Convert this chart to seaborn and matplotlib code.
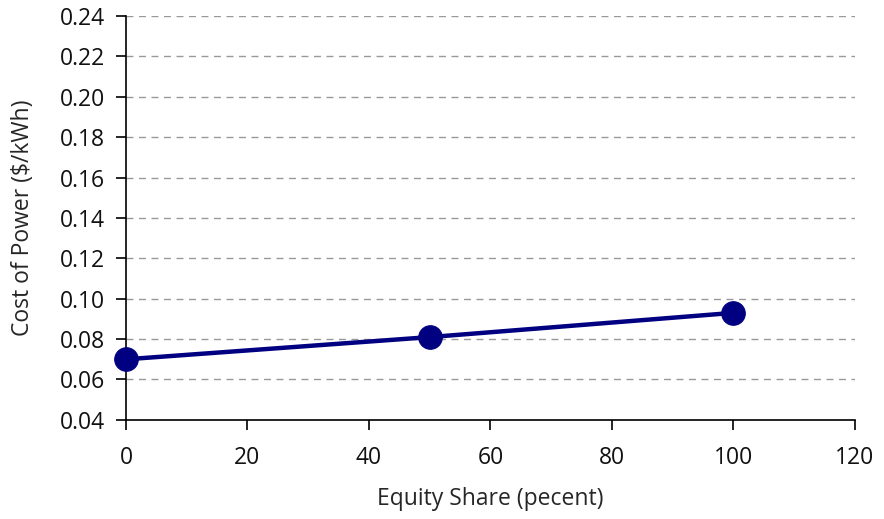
import matplotlib
matplotlib.use("Agg")
import matplotlib.pyplot as plt
import seaborn as sns
import pandas as pd

equity_share = [0, 50, 100]
cost_of_power = [0.070, 0.081, 0.093]
x_ticks = [0, 20, 40, 60, 80, 100, 120]
y_ticks = [0.04, 0.06, 0.08, 0.10, 0.12, 0.14, 0.16, 0.18, 0.20, 0.22, 0.24]

sns.set_style("white")
plt.rcParams['font.family'] = ['Open Sans', 'DejaVu Sans']

df = pd.DataFrame({"x": equity_share, "y": cost_of_power})

fig = plt.figure(figsize=(8.84, 5.19), dpi=100)
ax = fig.add_axes([0.1425, 0.191, 0.8245, 0.778])
sns.lineplot(data=df, x="x", y="y", ax=ax, color="#000080", linewidth=3.2,
             marker="o", markersize=17, markeredgecolor="#000080", clip_on=False, zorder=5)

ax.set_xlim(0, 120)
ax.set_ylim(0.04, 0.24)
ax.set_xticks(x_ticks)
ax.set_yticks(y_ticks)
ax.set_xticklabels([str(v) for v in x_ticks])
ax.set_yticklabels([f"{v:.2f}" for v in y_ticks])
ax.yaxis.grid(True, linestyle=(0, (5, 4)), color="#999999", linewidth=1)
ax.xaxis.grid(False)
for s in ["top", "right"]:
    ax.spines[s].set_visible(False)
for s in ["left", "bottom"]:
    ax.spines[s].set_color("black")
    ax.spines[s].set_linewidth(1.2)
ax.tick_params(axis="both", direction="out", length=7, width=1.2, color="black",
               labelsize=16.5, labelcolor="#111111", bottom=True, left=True)
ax.tick_params(axis="x", pad=12)
ax.tick_params(axis="y", pad=8)
ax.set_xlabel("Equity Share (pecent)", fontsize=16.5, labelpad=12)
ax.set_ylabel("Cost of Power ($/kWh)", fontsize=16.5, labelpad=18)

fig.savefig("out.png", dpi=100)
